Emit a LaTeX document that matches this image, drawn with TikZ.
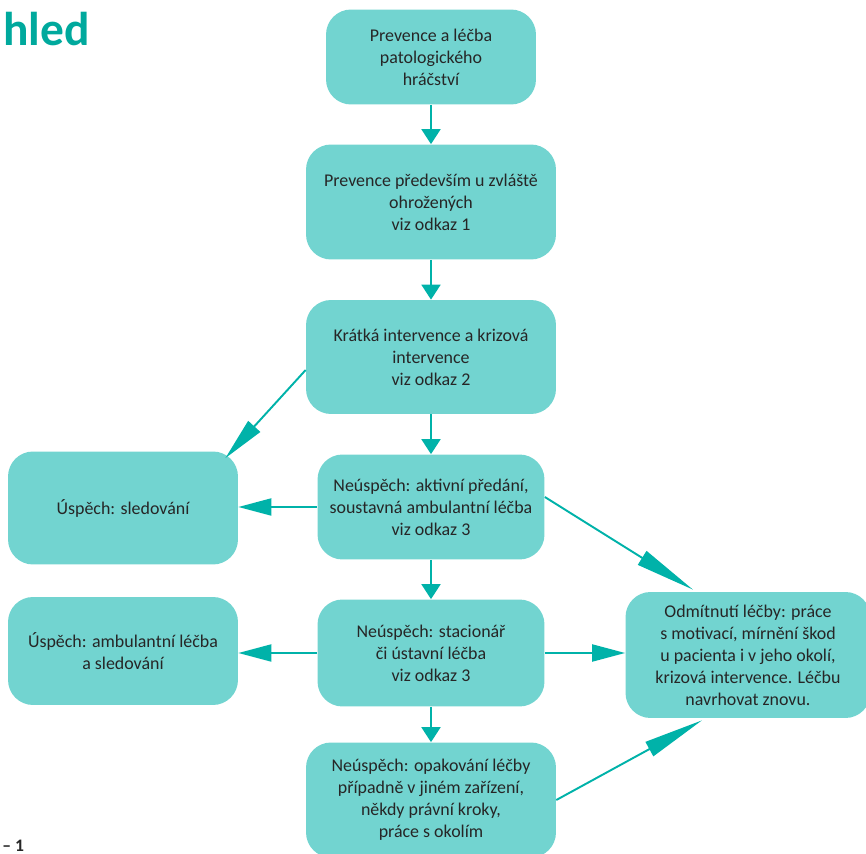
\documentclass[tikz,border=0pt]{standalone}
\usepackage{fontspec}
\setmainfont{Carlito}
\usetikzlibrary{arrows.meta,positioning,calc}
\definecolor{boxfill}{HTML}{72D4D0}
\definecolor{arrowteal}{HTML}{00B2A9}
\definecolor{titleteal}{HTML}{00A99D}
\definecolor{textgray}{HTML}{262626}
\tikzset{
    box/.style={rectangle, rounded corners=0.5cm, fill=boxfill, text=textgray, align=center, inner sep=0pt, font=\fontsize{10.2}{12.5}\selectfont},
    flow/.style={draw=arrowteal, line width=1.1pt, -{Triangle[length=0.3cm, width=0.38cm]}},
    side/.style={draw=arrowteal, line width=1.1pt, -{Triangle[length=0.66cm, width=0.34cm]}},
    slant/.style={draw=arrowteal, line width=1.1pt, -{Triangle[length=1.2cm, width=0.32cm]}},
}

\begin{document}
\begin{tikzpicture}[x=0.02cm, y=-0.02cm]
        \useasboundingbox (0,0) rectangle (866,854);
        \clip (0,0) rectangle (866,854);

        % heading remains
        \node[font=\fontsize{27}{30}\selectfont\bfseries, text=titleteal, anchor=base west, inner sep=0pt] (titul) at (3,46) {hled};
        \node[font=\fontsize{10}{12}\selectfont\bfseries, text=textgray, anchor=base west, inner sep=0pt] (cislo) at (2,851) {– 1};

        % middle column
        \node[box, minimum width=4.2cm, minimum height=1.9cm] (prevleb) at (431,57) {Prevence a léčba\\patologického\\hráčství};
        \node[box, minimum width=5cm, minimum height=2.3cm] (ohroz) at (431,202) {Prevence především u zvláště\\ohrožených\\viz odkaz 1};
        \node[box, minimum width=5cm, minimum height=2.28cm] (kratint) at (431,357) {Krátká intervence a krizová\\intervence\\viz odkaz 2};
        \node[box, minimum width=4.54cm, minimum height=2.1cm] (neusp1) at (431,507) {Neúspěch: aktivní předání,\\soustavná ambulantní léčba\\viz odkaz 3};
        \node[box, minimum width=4.54cm, minimum height=2.14cm] (neusp2) at (431,653) {Neúspěch: stacionář\\či ústavní léčba\\viz odkaz 3};
        \node[box, minimum width=5cm, minimum height=2.3cm] (neusp3) at (431,800) {Neúspěch: opakování léčby\\případně v jiném zařízení,\\někdy právní kroky,\\práce s okolím};

        % side boxes
        \node[box, minimum width=4.6cm, minimum height=2.26cm] (usp1) at (123,508) {Úspěch: sledování};
        \node[box, minimum width=4.6cm, minimum height=2.16cm] (usp2) at (123,651) {Úspěch: ambulantní léčba\\a sledování};
        \node[box, minimum width=4.9cm, minimum height=2.52cm] (odm) at (748,655) {Odmítnutí léčby: práce\\s motivací, mírnění škod\\u pacienta i v jeho okolí,\\krizová intervence. Léčbu\\navrhovat znovu.};

        \foreach \from/\to in {prevleb/ohroz, ohroz/kratint, kratint/neusp1, neusp1/neusp2, neusp2/neusp3}
            \draw[flow] (\from.south) -- (\to.north);

        \draw[side] (neusp1.west) -- (neusp1.west -| usp1.east);
        \draw[side] (neusp2.west) -- (neusp2.west -| usp2.east);
        \draw[side] (neusp2.east) -- (neusp2.east -| odm.west);

        \draw[slant, -{Triangle[length=0.86cm, width=0.32cm]}] ($(kratint.west)+(0,13)$) -- ($(usp1.north east)+(-13,7)$);
        \draw[slant] ($(neusp1.east)+(0,-10)$) -- ($(odm.north)+(-55,-2)$);
        \draw[slant] (neusp3.east) -- ($(odm.south)+(-46,2)$);
    \end{tikzpicture}
\end{document}
